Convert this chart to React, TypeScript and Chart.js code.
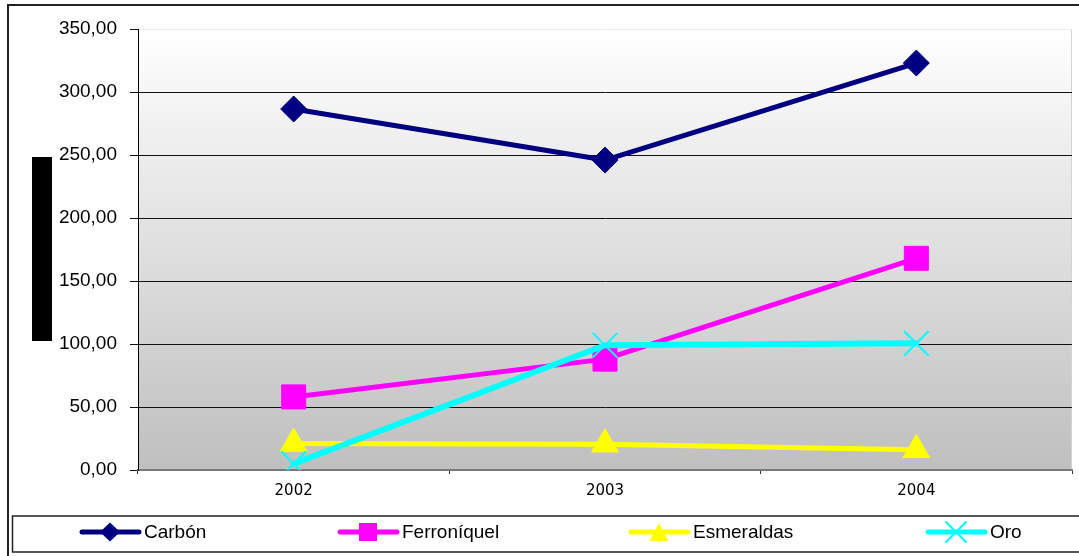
import React, { useEffect, useRef } from 'react';
import { Chart, registerables } from 'chart.js';

Chart.register(...registerables);

const categories = ['2002', '2003', '2004'];
const seriesNames = ['Carbón', 'Ferroníquel', 'Esmeraldas', 'Oro'];
const carbon = [286.5, 246.0, 323.0];
const ferroniquel = [58.0, 88.0, 168.0];
const esmeraldas = [21.0, 20.5, 16.0];
const oro = [5.0, 99.0, 100.5];
const yTicks = [0, 50, 100, 150, 200, 250, 300, 350];

const colors = ['#000080', '#ff00ff', '#ffff00', '#00ffff'];
const legendStartX = [80, 338, 629, 926];

function drawLegendMarker(ctx: CanvasRenderingContext2D, kind: number, x: number, y: number, color: string) {
  ctx.save();
  ctx.fillStyle = color;
  ctx.strokeStyle = color;
  ctx.beginPath();
  if (kind === 0) {
    ctx.moveTo(x - 10, y);
    ctx.lineTo(x, y - 9.5);
    ctx.lineTo(x + 10, y);
    ctx.lineTo(x, y + 9.5);
    ctx.closePath();
    ctx.fill();
  } else if (kind === 1) {
    ctx.rect(x - 9, y - 9, 18, 18);
    ctx.fill();
  } else if (kind === 2) {
    ctx.moveTo(x, y - 9);
    ctx.lineTo(x + 9.5, y + 9);
    ctx.lineTo(x - 9.5, y + 9);
    ctx.closePath();
    ctx.fill();
  } else {
    ctx.lineWidth = 2;
    ctx.moveTo(x - 10, y - 10);
    ctx.lineTo(x + 10, y + 10);
    ctx.moveTo(x + 10, y - 10);
    ctx.lineTo(x - 10, y + 10);
    ctx.stroke();
  }
  ctx.restore();
}

const decorPlugin = {
  id: 'decor',
  beforeDraw(chart: any) {
    const { ctx, chartArea: a } = chart;
    ctx.save();
    const g = ctx.createLinearGradient(0, a.top, 0, a.bottom);
    g.addColorStop(0, '#ffffff');
    g.addColorStop(1, '#bfbfbf');
    ctx.fillStyle = g;
    ctx.fillRect(a.left, a.top, a.right - a.left, a.bottom - a.top);
    ctx.strokeStyle = '#d4d4d4';
    ctx.lineWidth = 1;
    ctx.beginPath();
    ctx.moveTo(a.right - 0.5, a.top);
    ctx.lineTo(a.right - 0.5, a.bottom);
    ctx.stroke();
    ctx.restore();
  },
  afterDraw(chart: any) {
    const { ctx } = chart;
    ctx.save();
    // outer frame
    ctx.strokeStyle = '#222';
    ctx.lineWidth = 2;
    ctx.strokeRect(8, 5, 2000, 2000);
    // axis title placeholder (black block)
    ctx.fillStyle = '#000';
    ctx.fillRect(32, 157, 20, 184);
    // legend box
    ctx.strokeStyle = '#222';
    ctx.lineWidth = 1.5;
    ctx.strokeRect(12.5, 516, 2000, 36);
    // legend items
    const ly = 532;
    chart.data.datasets.forEach((ds: any, i: number) => {
      const x0 = legendStartX[i];
      ctx.strokeStyle = ds.borderColor;
      ctx.lineWidth = 5;
      ctx.lineCap = 'round';
      ctx.beginPath();
      ctx.moveTo(x0 + 2, ly);
      ctx.lineTo(x0 + 59, ly);
      ctx.stroke();
      drawLegendMarker(ctx, i, x0 + 30, ly, ds.borderColor);
      ctx.fillStyle = '#000';
      ctx.font = "19px 'Liberation Sans', Arial, sans-serif";
      ctx.textAlign = 'left';
      ctx.textBaseline = 'middle';
      ctx.fillText(ds.label, x0 + 64, ly + 1);
    });
    ctx.restore();
  },
};

export default function App() {
  const canvasRef = useRef<HTMLCanvasElement | null>(null);

  useEffect(() => {
    if (!canvasRef.current) return;
    const seriesData = [carbon, ferroniquel, esmeraldas, oro];
    const styles = ['rectRot', 'rect', 'triangle', 'crossRot'];
    const radii = [13, 17, 15.5, 17.5];
    const pbw = [1, 1, 1, 2];
    const lw = [5, 5, 5, 6];
    const chart = new Chart(canvasRef.current, {
      type: 'line',
      data: {
        labels: categories,
        datasets: seriesNames.map((name, i) => ({
          label: name,
          data: seriesData[i],
          borderColor: colors[i],
          backgroundColor: colors[i],
          borderWidth: lw[i],
          pointStyle: styles[i] as any,
          pointRadius: radii[i],
          pointHoverRadius: radii[i],
          pointBackgroundColor: colors[i],
          pointBorderColor: colors[i],
          pointBorderWidth: pbw[i],
          borderCapStyle: 'round',
          borderJoinStyle: 'round',
          tension: 0,
          fill: false,
          order: 3 - i,
        })) as any,
      },
      options: {
        responsive: false,
        animation: false,
        devicePixelRatio: 1,
        layout: { autoPadding: false, padding: { top: 29, right: 7, bottom: 56, left: 0 } },
        plugins: {
          legend: { display: false },
          tooltip: { enabled: false },
        },
        scales: {
          x: {
            type: 'category',
            offset: true,
            afterFit: (s: any) => {
              s.height = 30;
              s.paddingLeft = 0;
              s.paddingRight = 0;
            },
            ticks: {
              color: '#000',
              font: { family: "'DejaVu Sans', sans-serif", size: 15 },
              padding: 8,
              maxRotation: 0,
            },
            grid: {
              drawOnChartArea: false,
              drawTicks: true,
              tickLength: 4,
              color: '#333',
              offset: true,
            },
            border: { color: '#7a7a7a', width: 2 },
          },
          y: {
            min: 0,
            max: 350,
            afterFit: (s: any) => {
              s.width = 138;
            },
            afterBuildTicks: (s: any) => {
              s.ticks = yTicks.map((v) => ({ value: v }));
            },
            ticks: {
              color: '#000',
              font: { family: "'Liberation Sans', Arial, sans-serif", size: 19 },
              padding: 13,
              callback: (v: any) => Number(v).toFixed(2).replace('.', ','),
            },
            grid: {
              color: (c: any) => (c.tick && c.tick.value === 350 ? '#ececec' : '#111'),
              lineWidth: 1,
              tickLength: 8,
              tickColor: '#111',
              drawTicks: true,
            },
            border: { color: '#000', width: 1 },
          },
        },
      },
      plugins: [decorPlugin],
    });
    return () => chart.destroy();
  }, []);

  return (
    <div style={{ position: 'absolute', left: 0, top: 0, width: 1079, height: 556, background: '#fff' }}>
      <canvas ref={canvasRef} width={1079} height={556} style={{ display: 'block' }} />
    </div>
  );
}
